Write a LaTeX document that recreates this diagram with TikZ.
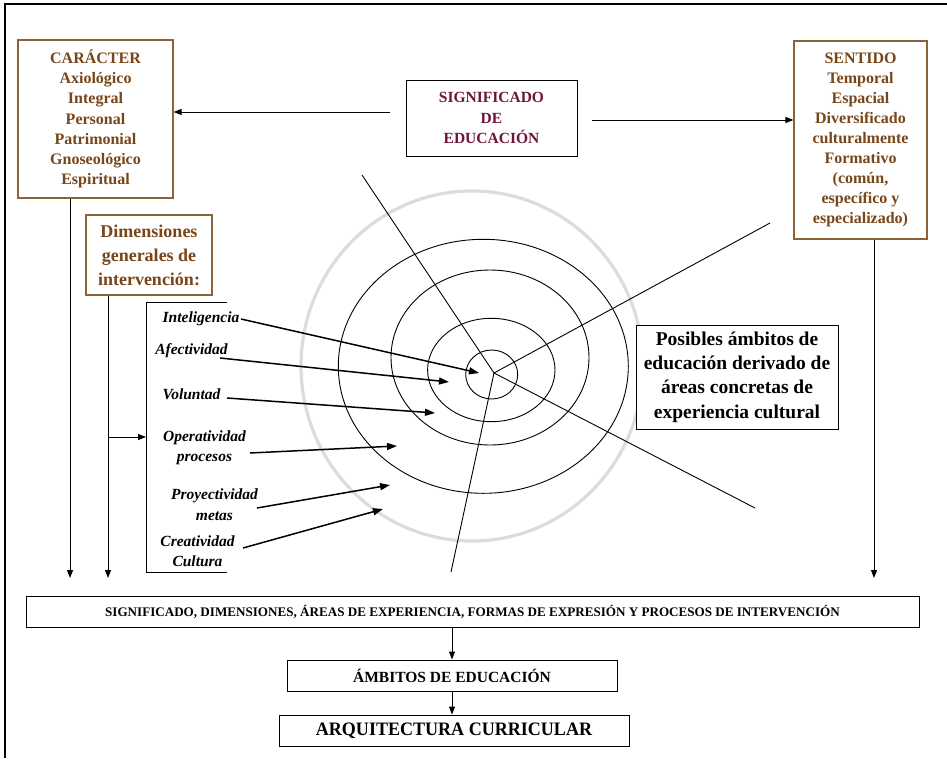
\documentclass[tikz,border=0pt]{standalone}
\usepackage{fontspec}
\setmainfont{Liberation Serif}
\usetikzlibrary{arrows.meta,calc}
\definecolor{txtbrown}{RGB}{120,70,25}
\definecolor{boxbrown}{RGB}{140,98,57}
\definecolor{maroon}{RGB}{110,20,60}
\definecolor{ringgray}{RGB}{220,220,220}
\newcommand\fsz[2]{\fontsize{#1}{#2}\selectfont}
\tikzset{
  bbox/.style={draw=boxbrown, line width=1.2, fill=white, text=txtbrown, align=center, inner sep=0pt},
  kbox/.style={draw=black, line width=1, fill=white, text=black, align=center, inner sep=0pt},
  arr/.style={-{Triangle[length=8pt,width=6pt]}, line width=1},
  larr/.style={-{Triangle[length=10pt,width=7pt]}, line width=1.5},
  lab/.style={font=\fsz{15.5}{20.5}\bfseries\itshape, align=center, inner sep=0pt},
  ring/.style={line width=0.9},
  ray/.style={line width=0.9}
}
\begin{document}
\begin{tikzpicture}[x=1pt,y=-1pt]
\useasboundingbox (0,0) rectangle (947,758);
% frame
\draw[line width=2] (5,758) -- (5,4) -- (947,4);
% gray ring
\draw[ringgray, line width=3.2] (472,366) ellipse [x radius=171, y radius=175];
% concentric ellipses
\draw[ring] (491.7,374.5) ellipse [x radius=26, y radius=24.5];
\draw[ring] (491.3,370) ellipse [x radius=63.7, y radius=51.7];
\draw[ring] (490,357.5) ellipse [x radius=99, y radius=87.5];
\draw[ring] (483.3,366.3) ellipse [x radius=145, y radius=127];
% rays
\coordinate (c) at (494,373);
\coordinate (r1) at (362,175);
\coordinate (r2) at (770,223);
\coordinate (r3) at (755,508);
\coordinate (r4) at (451,572);
\draw[ray] (c) -- (r1);
\draw[ray] (c) -- (r2);
\draw[ray] (c) -- (r3);
\draw[ray] (c) -- (r4);
% top boxes
\node[bbox, minimum width=155, minimum height=158, font=\fsz{16}{20.2}\bfseries] (car) at (95.5,119)
  {CARÁCTER\\Axiológico\\Integral\\Personal\\Patrimonial\\Gnoseológico\\Espiritual};
\node[bbox, minimum width=133, minimum height=198, font=\fsz{16}{20.1}\bfseries] (sen) at (860.5,140)
  {SENTIDO\\Temporal\\Espacial\\Diversificado\\culturalmente\\Formativo\\(común,\\específico y\\especializado)};
\node[bbox, minimum width=126, minimum height=80, font=\fsz{18}{24}\bfseries] (dim) at (149,255)
  {Dimensiones\\generales de\\intervención:};
\node[kbox, text=maroon, minimum width=171, minimum height=76, font=\fsz{15.5}{20.5}\bfseries] (sig) at (491.5,118)
  {SIGNIFICADO\\DE\\EDUCACIÓN};
\node[kbox, minimum width=202, minimum height=104, font=\fsz{19.5}{24.3}\bfseries] (pos) at (737,377)
  {Posibles ámbitos de\\educación derivado de\\áreas concretas de\\experiencia cultural};
% arrows from significado
\coordinate (sigL) at (390,112);
\coordinate (sigR) at (592,120);
\draw[arr] (sigL) -- (sigL -| car.east);
\draw[arr] (sigR) -- (sigR -| sen.west);
% down lines
\coordinate (carD) at (70,578);
\coordinate (dimD) at (108,578);
\coordinate (senD) at (874,578);
\draw[arr] (carD |- car.south) -- (carD);
\draw[arr] (dimD |- dim.south) -- (dimD);
\draw[arr] (senD |- sen.south) -- (senD);
% bracket
\coordinate (brk) at (146,437);
\draw[line width=1] (227,302) -- (146,302) -- (146,572) -- (227,572);
\draw[arr] (brk -| dimD) -- (brk);
% labels
\node[lab] (intel) at (201,319) {Inteligencia};
\node[lab] (afec) at (191.5,351) {Afectividad};
\node[lab] (volun) at (191.5,394) {Voluntad};
\node[lab] (oper) at (204.5,448) {Operatividad\\procesos};
\node[lab] (proy) at (214.5,504.5) {Proyectividad\\metas};
\node[lab] (crea) at (197.5,551) {Creatividad\\Cultura};
\coordinate (s1) at (241,319); \coordinate (e1) at (479,373);
\coordinate (s2) at (220,358); \coordinate (e2) at (449,382);
\coordinate (s3) at (227,398); \coordinate (e3) at (435,413);
\coordinate (s4) at (250,453); \coordinate (e4) at (397,446);
\coordinate (s5) at (257,508); \coordinate (e5) at (390,485);
\coordinate (s6) at (243,548); \coordinate (e6) at (383,509);
\draw[larr] (s1) -- (e1);
\draw[larr] (s2) -- (e2);
\draw[larr] (s3) -- (e3);
\draw[larr] (s4) -- (e4);
\draw[larr] (s5) -- (e5);
\draw[larr] (s6) -- (e6);
% bottom boxes
\node[kbox, minimum width=893, minimum height=31, font=\fsz{13.1}{15}\bfseries] (big) at (472.5,611.5)
  {SIGNIFICADO, DIMENSIONES, ÁREAS DE EXPERIENCIA, FORMAS DE EXPRESIÓN Y PROCESOS DE INTERVENCIÓN};
\node[kbox, minimum width=330, minimum height=31, font=\fsz{15.5}{17}\bfseries] (amb) at (452,675.5)
  {ÁMBITOS DE EDUCACIÓN};
\node[kbox, minimum width=350, minimum height=31, font=\fsz{19}{21}\bfseries] (arq) at (454,730.5)
  {\scalebox{0.95}[1]{ARQUITECTURA CURRICULAR}};
\draw[arr] (big.south -| amb.north) -- (amb.north);
\draw[arr] (amb.south) -- (amb.south |- arq.north);
\end{tikzpicture}
\end{document}
